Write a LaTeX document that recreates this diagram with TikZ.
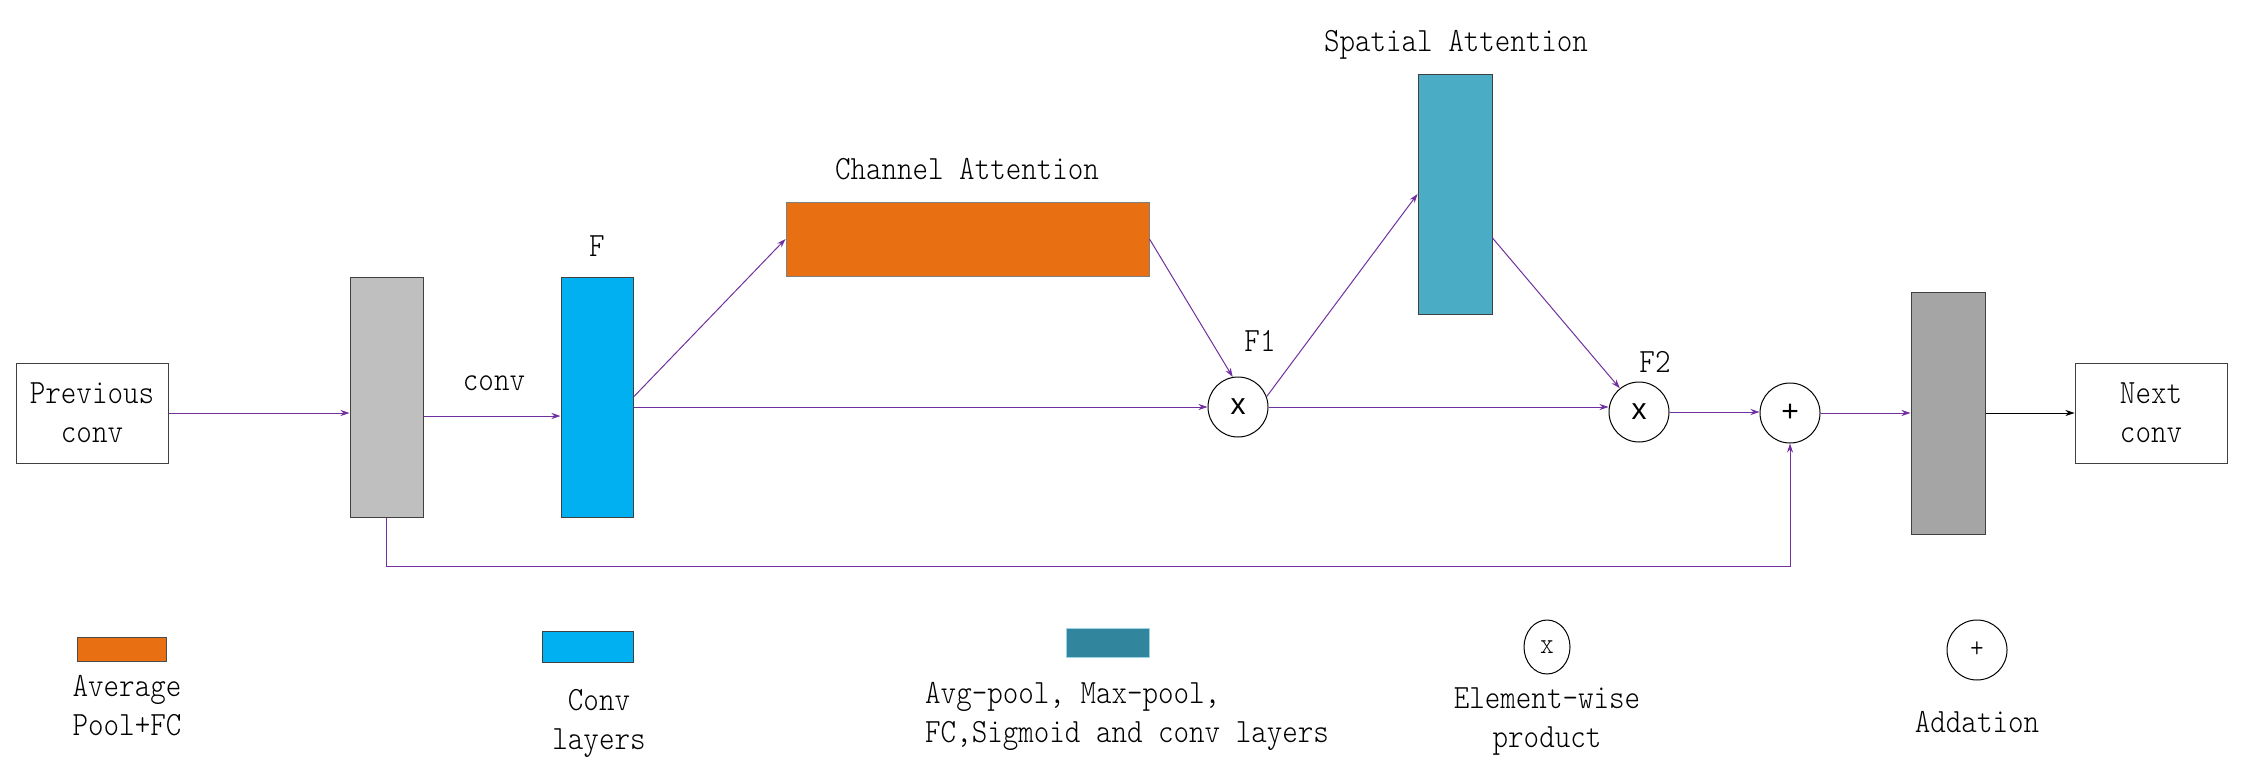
\documentclass[tikz,border=0pt]{standalone}
\usepackage{fontspec}
\usetikzlibrary{arrows.meta,shapes.geometric,calc}
\newfontfamily\labfont{lmmonolt10-regular.otf}[FakeStretch=0.87]
\newfontfamily\symfont{Liberation Sans}
\definecolor{arrowc}{HTML}{7030A0}
\definecolor{grayA}{HTML}{BFBFBF}
\definecolor{grayB}{HTML}{A5A5A5}
\definecolor{blueC}{HTML}{00B0F0}
\definecolor{orangeC}{HTML}{E97012}
\definecolor{spatC}{HTML}{4BACC6}
\definecolor{tealC}{HTML}{31859C}
\definecolor{tealE}{HTML}{9DD3E6}
\tikzset{
  lab/.style={font=\labfont\fontsize{34}{39}\selectfont, inner sep=0pt, align=center},
  blk/.style={draw=black!75, line width=1pt, inner sep=0pt},
  txtbox/.style={draw=black!75, line width=1pt, inner sep=0pt, minimum width=152pt, minimum height=100pt, lab},
  opc/.style={draw=black, line width=1pt, circle, inner sep=0pt, minimum size=60pt, font=\symfont\fontsize{30}{30}\selectfont},
  conn/.style={draw=arrowc, line width=1pt, -{Stealth[length=9pt,width=6pt]}},
}
\begin{document}
\begin{tikzpicture}[x=1pt,y=-1pt]
\useasboundingbox (0,0) rectangle (2266,779);
% main blocks
\node[txtbox] (prev) at (92,413) {Previous\\conv};
\node[blk, fill=grayA, minimum width=73pt, minimum height=240pt] (g1) at (386.5,397) {};
\node[blk, fill=blueC, minimum width=72pt, minimum height=240pt] (fb) at (597,397) {};
\node[blk, draw=black!50, fill=orangeC, minimum width=363pt, minimum height=74pt] (ca) at (967.5,239) {};
\node[opc] (f1) at (1238,407) {x};
\node[blk, fill=spatC, minimum width=74pt, minimum height=240pt] (sa) at (1455,194) {};
\node[opc] (f2) at (1639,412) {x};
\node[opc] (pl) at (1790,413) {+};
\node[blk, fill=grayB, minimum width=74pt, minimum height=242pt] (g2) at (1948,413) {};
\node[txtbox] (next) at (2151,413) {Next\\conv};
% labels
\node[lab] (lconv) at (494,383) {conv};
\node[lab] (lF) at (597,246) {F};
\node[lab] (lca) at (967,169) {Channel Attention};
\node[lab] (lF1) at (1260,341) {F1};
\node[lab] (lsa) at (1456,45) {Spatial Attention};
\node[lab] (lF2) at (1655,362) {F2};
% connectors
\coordinate (skipy) at (0,566);
\draw[conn] (prev.east) -- (prev.east -| g1.west);
\draw[conn] ([yshift=-19pt]g1.east) -- ([yshift=-19pt]fb.west);
\draw[conn] (fb.east |- f1) -- (f1.west);
\draw[conn] (fb.east) -- (ca.west);
\draw[conn] (ca.east) -- (f1.100);
\draw[conn] (f1.20) -- (sa.west);
\draw[conn] (f1.east) -- (f1.east -| f2.west);
\draw[conn] ([yshift=-44pt]sa.east) -- (f2.129);
\draw[conn] (f2.east) -- (f2.east -| pl.west);
\draw[conn] (pl.east) -- (g2.west);
\draw[line width=1pt, -{Stealth[length=9pt,width=6pt]}] (g2.east) -- (next.west);
\draw[conn] (g1.south) -- (g1.south |- skipy) -| (pl.south);
% legend
\node[blk, draw=black!70, fill=orangeC, minimum width=89pt, minimum height=24pt] (leg1) at (121.5,649) {};
\node[lab, align=left] (leg1t) at (127,706) {Average\\Pool+FC};
\node[blk, fill=blueC, minimum width=91pt, minimum height=31pt] (leg2) at (587.5,646.5) {};
\node[lab] (leg2t) at (599,723) {Conv\\layers};
\node[blk, draw=tealE, fill=tealC, minimum width=83pt, minimum height=29pt] (leg3) at (1107.5,642.5) {};
\node[lab, align=left, anchor=west] (leg3t) at (925,716) {Avg-pool, Max-pool,\\FC,Sigmoid and conv layers};
\node[draw=black, line width=1pt, ellipse, inner sep=0pt, minimum width=46pt, minimum height=54pt, font=\labfont\fontsize{30}{30}\selectfont] (leg4) at (1547,647) {x};
\node[lab] (leg4t) at (1547,722) {Element-wise\\product};
\node[opc, font=\labfont\fontsize{30}{30}\selectfont] (leg5) at (1977,650) {+};
\node[lab] (leg5t) at (1977,722) {Addation};
\end{tikzpicture}
\end{document}
